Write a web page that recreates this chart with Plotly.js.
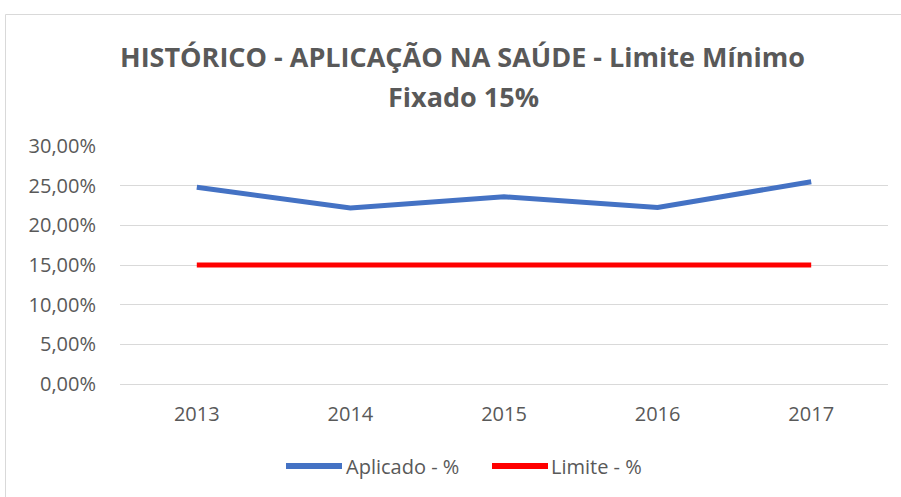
<!DOCTYPE html>
<html><head><meta charset="utf-8">
<script src="https://cdn.plot.ly/plotly-3.0.1.min.js"></script>
<style>html,body{margin:0;padding:0;background:#fff}#chart{width:901px;height:497px}</style>
</head><body><div id="chart"></div>
<script>
const years = ['2013', '2014', '2015', '2016', '2017'];
const aplicado = [0.2479, 0.2220, 0.2360, 0.2225, 0.2550];
const limite = [0.15, 0.15, 0.15, 0.15, 0.15];
const seriesNames = ['Aplicado - %', 'Limite - %'];
const seriesColors = ['#4472C4', '#FF0000'];
const titleLines = ['HISTÓRICO - APLICAÇÃO NA SAÚDE - Limite Mínimo', 'Fixado 15%'];
const yTicks = [0, 0.05, 0.10, 0.15, 0.20, 0.25, 0.30];

const ml = 120, mr = 13, mt = 146, mb = 113;
const W = 901, H = 497;
const pw = W - ml - mr, ph = H - mt - mb;
const fx = p => (p - ml) / pw;
const fy = p => (H - mb - p) / ph;

const txt = '#595959';
const FONT = 'Open Sans, sans-serif';
const data = [
  {x: years, y: aplicado, name: seriesNames[0], type: 'scatter', mode: 'lines',
   line: {color: seriesColors[0], width: 5}},
  {x: years, y: limite, name: seriesNames[1], type: 'scatter', mode: 'lines',
   line: {color: seriesColors[1], width: 5}}
];

const annotations = [
  {text: '<b>' + titleLines[0] + '</b>', xref: 'paper', yref: 'paper', x: fx(462), y: fy(56),
   xanchor: 'center', yanchor: 'middle', showarrow: false, font: {family: FONT, size: 27, color: txt}},
  {text: '<b>' + titleLines[1] + '</b>', xref: 'paper', yref: 'paper', x: fx(463), y: fy(96),
   xanchor: 'center', yanchor: 'middle', showarrow: false, font: {family: FONT, size: 27, color: txt}},
  {text: seriesNames[0], xref: 'paper', yref: 'paper', x: fx(344), y: fy(466),
   xanchor: 'left', yanchor: 'middle', showarrow: false, font: {family: FONT, size: 20, color: txt}},
  {text: seriesNames[1], xref: 'paper', yref: 'paper', x: fx(549), y: fy(466),
   xanchor: 'left', yanchor: 'middle', showarrow: false, font: {family: FONT, size: 20, color: txt}}
];

const layout = {
  width: W, height: H,
  margin: {l: ml, r: mr, t: mt, b: mb},
  paper_bgcolor: '#fff', plot_bgcolor: '#fff',
  separators: ',.',
  font: {family: FONT, color: txt, size: 20},
  xaxis: {type: 'category', range: [-0.5, 4.5], showgrid: false, zeroline: false,
    showline: false, ticks: '', ticklabelstandoff: 16, tickfont: {size: 20, color: txt},
    fixedrange: true},
  yaxis: {range: [0, 0.30], tickvals: yTicks, tickformat: '.2%', showgrid: true,
    gridcolor: '#D9D9D9', gridwidth: 1, zeroline: true, zerolinecolor: '#D9D9D9', zerolinewidth: 1,
    showline: false, ticks: '', ticklabelstandoff: 23, tickfont: {size: 20, color: txt},
    fixedrange: true},
  showlegend: false,
  annotations: annotations,
  shapes: [
    {type: 'rect', xref: 'paper', yref: 'paper', x0: fx(5.5), x1: fx(960), y0: fy(14.5), y1: fy(560),
     line: {color: '#D9D9D9', width: 1}, fillcolor: 'rgba(0,0,0,0)', layer: 'below'},
    {type: 'line', xref: 'paper', yref: 'paper', x0: fx(286), x1: fx(342), y0: fy(466), y1: fy(466),
     line: {color: seriesColors[0], width: 6}},
    {type: 'line', xref: 'paper', yref: 'paper', x0: fx(492), x1: fx(548), y0: fy(466), y1: fy(466),
     line: {color: seriesColors[1], width: 6}}
  ]
};
Plotly.newPlot('chart', data, layout, {displayModeBar: false, staticPlot: true});
</script></body></html>
